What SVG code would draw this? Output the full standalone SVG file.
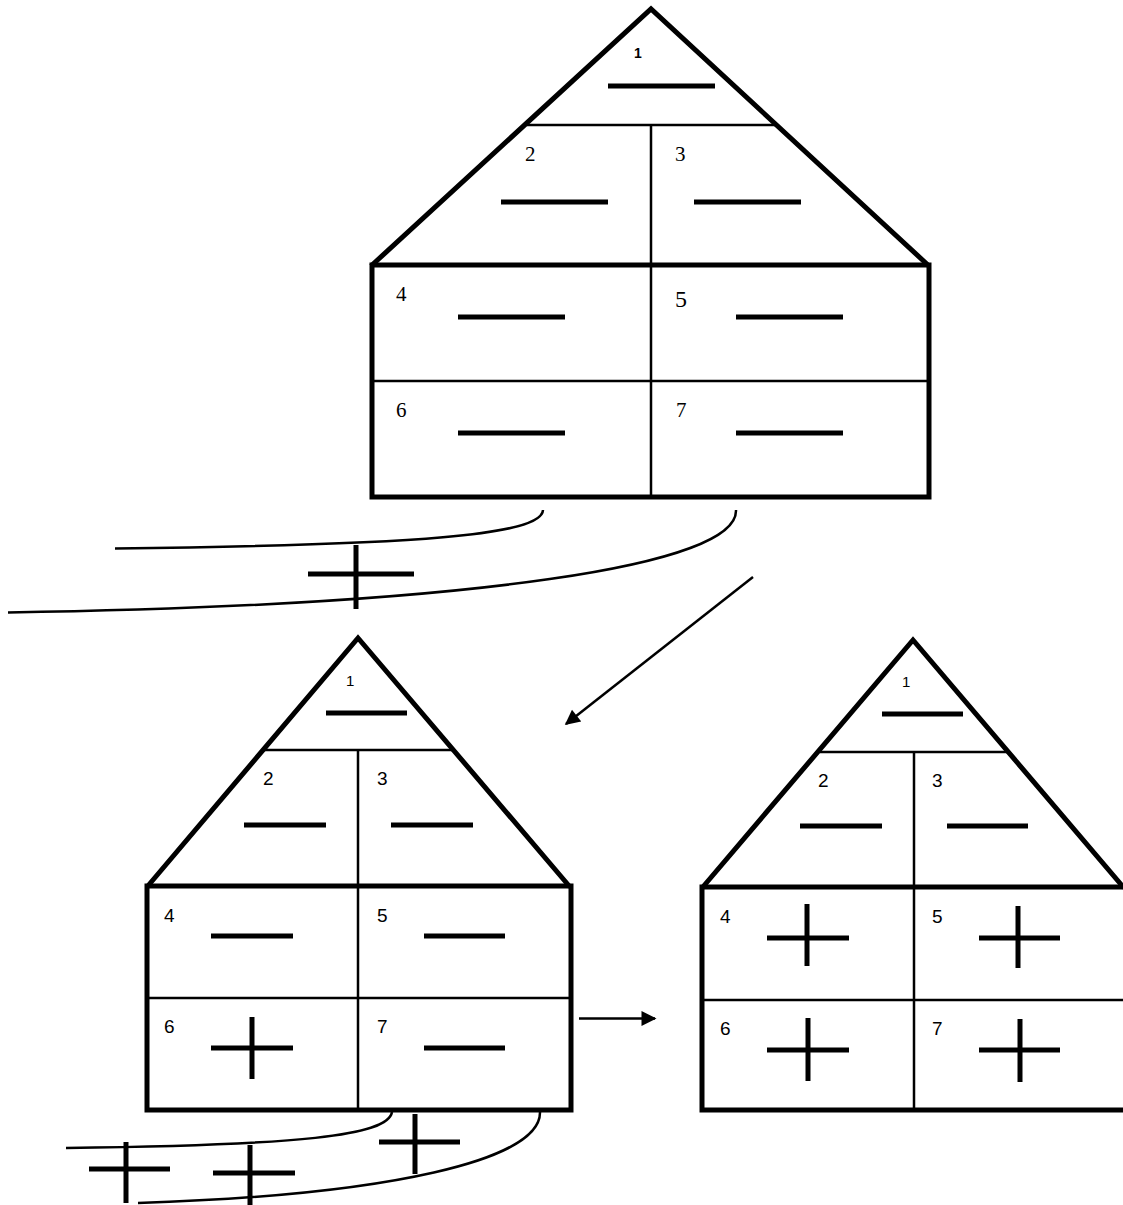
<svg xmlns="http://www.w3.org/2000/svg" width="1123" height="1205" viewBox="0 0 1123 1205">
<style>
.outer{fill:none;stroke:#000;stroke-width:5;stroke-linejoin:miter}
.inner{fill:none;stroke:#000;stroke-width:2.5}
.bar{fill:none;stroke:#000;stroke-width:5}
.curve{fill:none;stroke:#000;stroke-width:2.5}
.conn{fill:none;stroke:#000;stroke-width:2.5}
.serif{font-family:"Liberation Serif","Times New Roman",serif;font-size:21px;fill:#000}
.sans{font-family:"Liberation Sans",Arial,sans-serif;font-size:19px;fill:#000}
</style>
<defs>
<marker id="ah" viewBox="0 0 10 10" refX="9" refY="5" markerWidth="7" markerHeight="6" orient="auto" markerUnits="strokeWidth">
<path d="M0,0 L10,5 L0,10 z" fill="#000"/>
</marker>
</defs>
<rect width="1123" height="1205" fill="#fff"/>

<g id="house-top">
<polyline class="outer" points="371,266 651,9 929,266"/>
<rect class="outer" x="372" y="265" width="557" height="232"/>
<line class="inner" x1="527" y1="125" x2="775" y2="125"/>
<line class="inner" x1="651" y1="125" x2="651" y2="497"/>
<line class="inner" x1="372" y1="381" x2="929" y2="381"/>
<line class="bar" x1="608" y1="86" x2="715" y2="86"/>
<line class="bar" x1="501" y1="202" x2="608" y2="202"/>
<line class="bar" x1="694" y1="202" x2="801" y2="202"/>
<line class="bar" x1="458" y1="317" x2="565" y2="317"/>
<line class="bar" x1="736" y1="317" x2="843" y2="317"/>
<line class="bar" x1="458" y1="433" x2="565" y2="433"/>
<line class="bar" x1="736" y1="433" x2="843" y2="433"/>
<text x="634" y="58" style="font-family:'Liberation Sans',Arial,sans-serif;font-size:14px;font-weight:bold">1</text>
<text class="serif" x="525" y="161">2</text>
<text class="serif" x="675" y="161">3</text>
<text class="serif" x="396" y="301">4</text>
<text class="serif" x="675" y="307" style="font-size:24px">5</text>
<text class="serif" x="396" y="417">6</text>
<text class="serif" x="676" y="417">7</text>
</g>

<g id="top-curves">
<path class="curve" d="M543,510 C542,535 420,545 115,548.5"/>
<path class="curve" d="M736,510 C738,565 480,605 8,612.5"/>
<line class="bar" x1="308" y1="574" x2="414" y2="574"/>
<line class="bar" x1="356" y1="545" x2="356" y2="609"/>
</g>

<g id="house-left">
<polyline class="outer" points="147,887 358,638 570,887"/>
<rect class="outer" x="147" y="886" width="424" height="224"/>
<line class="inner" x1="264" y1="750" x2="452" y2="750"/>
<line class="inner" x1="358" y1="750" x2="358" y2="1110"/>
<line class="inner" x1="147" y1="998" x2="571" y2="998"/>
<line class="bar" x1="326" y1="713" x2="407" y2="713"/>
<line class="bar" x1="244" y1="825" x2="326" y2="825"/>
<line class="bar" x1="391" y1="825" x2="473" y2="825"/>
<line class="bar" x1="211" y1="936" x2="293" y2="936"/>
<line class="bar" x1="424" y1="936" x2="505" y2="936"/>
<line class="bar" x1="211" y1="1048" x2="293" y2="1048"/>
<line class="bar" x1="252" y1="1017" x2="252" y2="1079"/>
<line class="bar" x1="424" y1="1048" x2="505" y2="1048"/>
<text class="sans" x="346" y="686" style="font-size:15px">1</text>
<text class="sans" x="263" y="785">2</text>
<text class="sans" x="377" y="785">3</text>
<text class="sans" x="164" y="922">4</text>
<text class="sans" x="377" y="922">5</text>
<text class="sans" x="164" y="1033">6</text>
<text class="sans" x="377" y="1033">7</text>
</g>

<g id="left-curves">
<path class="curve" d="M392,1112 C388,1136 300,1145 66,1148"/>
<path class="curve" d="M540,1112 C541,1160 390,1195 138,1203"/>
<line class="bar" x1="89" y1="1169" x2="170" y2="1169"/>
<line class="bar" x1="126" y1="1142" x2="126" y2="1203"/>
<line class="bar" x1="213" y1="1173" x2="295" y2="1173"/>
<line class="bar" x1="250" y1="1145" x2="250" y2="1205"/>
<line class="bar" x1="379" y1="1142" x2="460" y2="1142"/>
<line class="bar" x1="415" y1="1114" x2="415" y2="1174"/>
</g>

<g id="house-right">
<polyline class="outer" points="702,888 913,640 1124,888"/>
<polyline class="outer" points="1130,887 702,887 702,1110 1130,1110"/>
<line class="inner" x1="820" y1="752" x2="1008" y2="752"/>
<line class="inner" x1="914" y1="752" x2="914" y2="1110"/>
<line class="inner" x1="702" y1="1000" x2="1123" y2="1000"/>
<line class="bar" x1="882" y1="714" x2="963" y2="714"/>
<line class="bar" x1="800" y1="826" x2="882" y2="826"/>
<line class="bar" x1="947" y1="826" x2="1028" y2="826"/>
<line class="bar" x1="767" y1="938" x2="849" y2="938"/>
<line class="bar" x1="807" y1="904" x2="807" y2="966"/>
<line class="bar" x1="979" y1="938" x2="1060" y2="938"/>
<line class="bar" x1="1018" y1="906" x2="1018" y2="968"/>
<line class="bar" x1="767" y1="1050" x2="849" y2="1050"/>
<line class="bar" x1="808" y1="1018" x2="808" y2="1081"/>
<line class="bar" x1="979" y1="1050" x2="1060" y2="1050"/>
<line class="bar" x1="1020" y1="1019" x2="1020" y2="1082"/>
<text class="sans" x="902" y="687" style="font-size:15px">1</text>
<text class="sans" x="818" y="787">2</text>
<text class="sans" x="932" y="787">3</text>
<text class="sans" x="720" y="923">4</text>
<text class="sans" x="932" y="923">5</text>
<text class="sans" x="720" y="1035">6</text>
<text class="sans" x="932" y="1035">7</text>
</g>

<g id="connectors">
<line class="conn" x1="753" y1="577" x2="566" y2="724" marker-end="url(#ah)"/>
<line class="conn" x1="579" y1="1018.5" x2="655" y2="1018.5" marker-end="url(#ah)"/>
</g>
</svg>
